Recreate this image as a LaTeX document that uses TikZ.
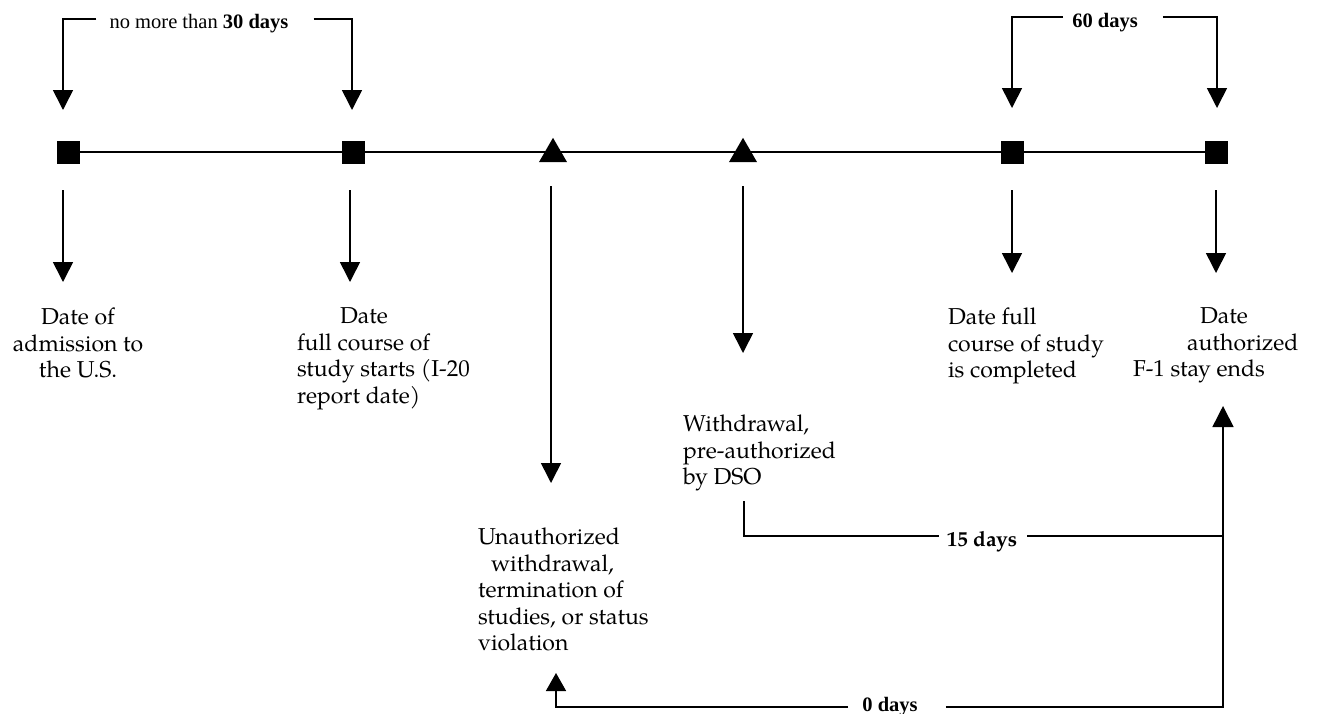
\documentclass[tikz,border=0pt]{standalone}
\usepackage{fontspec}
\setmainfont{Liberation Serif}
\newfontfamily\pal{TeX Gyre Pagella}
\usetikzlibrary{arrows.meta,shapes.geometric}
\begin{document}
\begin{tikzpicture}[x=1pt,y=-1pt,
  sq/.style={rectangle,fill=black,draw=none,minimum size=23pt,inner sep=0pt,outer sep=0pt},
  tri/.style={regular polygon,regular polygon sides=3,fill=black,draw=none,minimum size=32.4pt,inner sep=0pt,outer sep=0pt},
  tline/.style={line width=1.3pt},
  brk/.style={line width=1.6pt},
  arr/.style={line width=1.6pt,-{Triangle[width=20pt,length=20pt]}},
  lbl/.style={font=\pal\fontsize{23}{26.5}\selectfont,inner sep=0pt,outer sep=0pt},
  tms/.style={font=\fontsize{20.5}{24}\selectfont,inner sep=0pt,anchor=base},
  pbold/.style={font=\pal\bfseries\fontsize{21}{24}\selectfont,inner sep=0pt,anchor=base}]
\useasboundingbox (0,0) rectangle (1322,713);

% timeline markers
\node[sq] (s1) at (68,152) {};
\node[sq] (s2) at (353,152) {};
\node[tri] (t1) at (553,154) {};
\node[tri] (t2) at (743,154) {};
\node[sq] (s3) at (1012,152) {};
\node[sq] (s4) at (1216,152) {};
\draw[tline] (s1.center) -- (s4.center);

% top labels
\node[tms] (l30) at (199,28) {no more than \textbf{30 days}};
\node[tms] (l60) at (1105,27) {\textbf{60 days}};

\coordinate (a1) at (63,110);
\coordinate (a2) at (352,110);
\coordinate (a5) at (1012,108);
\coordinate (a6) at (1217,108);
\draw[arr] ([xshift=-13pt]l30.west |- 0,19) -| (a1);
\draw[arr] ([xshift=25pt]l30.east |- 0,19) -| (a2);
\draw[arr] ([xshift=-9pt]l60.west |- 0,17) -| (a5);
\draw[arr] ([xshift=25pt]l60.east |- 0,17) -| (a6);

% labels
\node[lbl,align=center,anchor=north] (d1) at (78,308) {Date of\\admission to\\the U.S.};
\node[lbl,align=left,anchor=north west] (d2) at (297,308) {\hspace*{43pt}Date\\full course of\\study starts (I-20\\report date)};
\node[lbl,align=left,anchor=north west] (w1) at (683,415) {Withdrawal,\\pre-authorized\\by DSO};
\node[lbl,align=left,anchor=north west] (u1) at (478,528) {Unauthorized\\\hspace*{13pt}withdrawal,\\termination of\\studies, or status\\violation};
\node[lbl,align=left,anchor=north west] (d5) at (948,308) {Date full\\course of study\\is completed};
\node[lbl,align=left,anchor=north west] (d6) at (1133,308) {\hspace*{67pt}Date\\\hspace*{54pt}authorized\\F-1 stay ends};

% down arrows
\coordinate (b1s) at (63,190);   \coordinate (b1e) at (63,282);
\coordinate (b2s) at (350,190);  \coordinate (b2e) at (350,282);
\coordinate (b3s) at (551,186);  \coordinate (b3e) at (551,483);
\coordinate (b4s) at (743,186);  \coordinate (b4e) at (743,353);
\coordinate (b5s) at (1012,190); \coordinate (b5e) at (1012,273);
\coordinate (b6s) at (1216,190); \coordinate (b6e) at (1216,273);
\draw[arr] (b1s) -- (b1e);
\draw[arr] (b2s) -- (b2e);
\draw[arr] (b3s) -- (b3e);
\draw[arr] (b4s) -- (b4e);
\draw[arr] (b5s) -- (b5e);
\draw[arr] (b6s) -- (b6e);

% bottom brackets
\node[pbold] (l15) at (982,546) {15 days};
\node[tms] (l0) at (890,711) {\textbf{0 days}};
\coordinate (w2) at (744,501);
\coordinate (fup) at (1223,406);
\coordinate (ubot) at (556,673);
\draw[brk] (w2) |- ([xshift=-8pt]l15.west |- 0,536);
\draw[brk] ([xshift=10pt]l15.east |- 0,536) -- (1223,536);
\draw[line width=1.6pt,-{Triangle[width=21pt,length=21pt]}] ([xshift=28pt]l0.east |- 0,707) -| (fup);
\draw[line width=1.6pt,-{Triangle[width=20pt,length=18pt]}] ([xshift=-14pt]l0.west |- 0,707) -| (ubot);
\end{tikzpicture}
\end{document}
